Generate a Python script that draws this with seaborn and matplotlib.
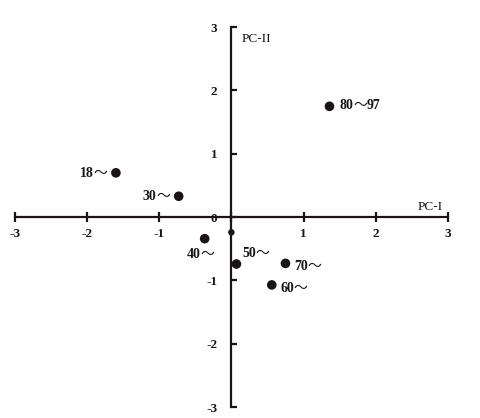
import pandas as pd
import matplotlib
matplotlib.use("Agg")
import matplotlib.pyplot as plt
import seaborn as sns
from matplotlib.offsetbox import TextArea, HPacker, AnnotationBbox

# grupos de edad y sus coordenadas en el plano PC-I / PC-II
groups = ["18～", "30～", "40～", "50～", "60～", "70～", "80～97", ""]
pc1 = [-1.60, -0.73, -0.37, 0.07, 0.56, 0.75, 1.36, 0.0]
pc2 = [0.70, 0.33, -0.34, -0.74, -1.07, -0.73, 1.75, -0.24]
ticks = [-3, -2, -1, 0, 1, 2, 3]

# posicion de cada etiqueta (offset en puntos, alineacion x, alineacion y)
labelPos = {
    "18～": (-6, 0, 1.0, 0.5),
    "30～": (-6, 0, 1.0, 0.5),
    "40～": (-3, -6, 0.5, 1.0),
    "50～": (4, 3, 0.0, 0.0),
    "60～": (6, -2, 0.0, 0.5),
    "70～": (6, -2, 0.0, 0.5),
    "80～97": (7, 1, 0.0, 0.5),
}

INK = "#1a1414"
SERIF = ["Liberation Serif", "Noto Sans CJK JP"]


def labelBox(txt):
    # numeros en negrita, la tilde fina
    parts = []
    pieces = txt.split("～")
    for i, p in enumerate(pieces):
        if p:
            parts.append(TextArea(p, textprops=dict(fontsize=10, fontweight="bold",
                                                    family=SERIF, color=INK)))
        if i < len(pieces) - 1:
            parts.append(TextArea("～", textprops=dict(fontsize=10, fontweight="normal",
                                                      family=["Noto Sans CJK JP"], color=INK)))
    return HPacker(children=parts, pad=0, sep=0, align="baseline")


df = pd.DataFrame({"group": groups, "PC1": pc1, "PC2": pc2})

sns.set_style("white")
plt.rcParams["font.family"] = SERIF

fig = plt.figure(figsize=(4.81, 4.18), dpi=100)
ax = fig.add_axes([0.031, 0.026, 0.9, 0.909])

main = df[df["group"] != ""]
extra = df[df["group"] == ""]
sns.scatterplot(data=main, x="PC1", y="PC2", color=INK, s=48,
                edgecolor="none", ax=ax, zorder=3)
sns.scatterplot(data=extra, x="PC1", y="PC2", color=INK, s=22,
                edgecolor="none", ax=ax, zorder=3)

for g, x, y in zip(df["group"], df["PC1"], df["PC2"]):
    if g == "":
        continue
    dx, dy, bx, by = labelPos[g]
    ab = AnnotationBbox(labelBox(g), (x, y), xybox=(dx, dy), boxcoords="offset points",
                        box_alignment=(bx, by), frameon=False, pad=0)
    ax.add_artist(ab)

ax.set_xlim(-3, 3)
ax.set_ylim(-3, 3)
ax.spines["left"].set_position(("data", 0))
ax.spines["bottom"].set_position(("data", 0))
ax.spines["right"].set_visible(False)
ax.spines["top"].set_visible(False)
for s in ["left", "bottom"]:
    ax.spines[s].set_linewidth(1.6)
    ax.spines[s].set_color(INK)

ax.set_xticks(ticks)
ax.set_xticklabels([str(t) if t != 0 else "" for t in ticks])
ax.set_yticks(ticks)
ax.set_yticklabels([str(t) for t in ticks])
ax.tick_params(axis="x", bottom=True, direction="inout", length=7, width=1.6, pad=4,
               labelsize=9.5, color=INK, labelcolor=INK)
ax.tick_params(axis="y", left=True, direction="in", length=4, width=1.6, pad=10,
               labelsize=9.5, color=INK, labelcolor=INK)
for lab in ax.get_xticklabels() + ax.get_yticklabels():
    lab.set_fontweight("bold")

ax.set_xlabel("")
ax.set_ylabel("")
ax.text(2.75, 0.06, "PC-I", ha="center", va="bottom", fontsize=9.5, color=INK)
ax.text(0.14, 2.82, "PC-II", ha="left", va="center", fontsize=9.5, color=INK)

plt.savefig("out.png", dpi=100)
plt.close()
